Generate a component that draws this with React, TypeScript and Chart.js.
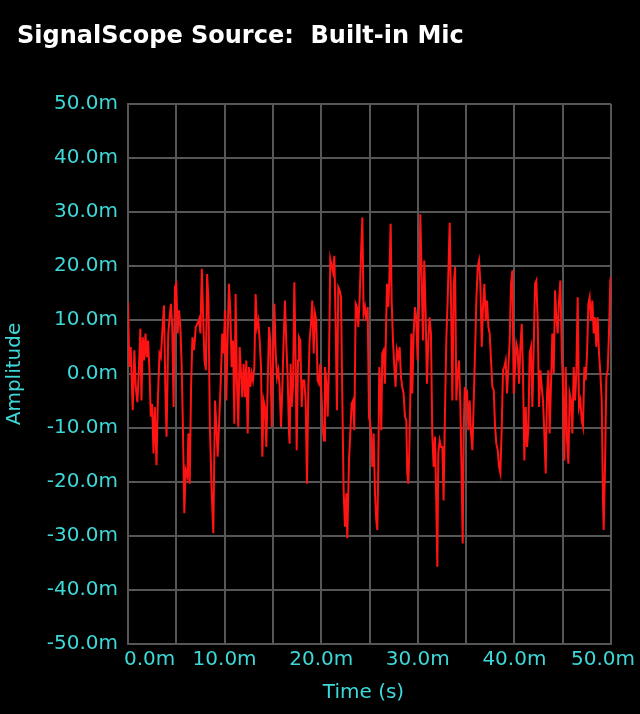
import React, { useEffect, useRef } from 'react';
import { Chart, registerables } from 'chart.js';

Chart.register(...registerables);

const TITLE = 'SignalScope Source:  Built-in Mic';
const X_TITLE = 'Time (s)';
const Y_TITLE = 'Amplitude';
const X_LABEL_TICKS = [0, 10, 20, 30, 40, 50]; // ms
const X_RANGE = [0, 50];
const Y_RANGE = [-50, 50]; // mV

// [time (ms), amplitude (mV)]
const signalSamples: [number, number][] = [
  [0.00, 13.3], [0.14, 1.3], [0.28, 5.0], [0.49, -6.7], [0.66, 4.4], [0.80, -2.4], [0.97, -5.2], [1.11, 0.1], [1.28, 8.4], [1.39, -4.9],
  [1.53, 6.8], [1.67, 2.5], [1.81, 7.5], [1.94, 3.1], [2.08, 6.2], [2.22, 0.7], [2.36, -7.9], [2.50, -5.5], [2.64, -14.7], [2.78, -6.1],
  [2.95, -16.9], [3.09, -4.9], [3.26, 3.8], [3.40, 3.1], [3.54, 7.5], [3.72, 12.7], [3.89, -4.9], [3.99, -11.6], [4.17, 7.5], [4.31, 10.5],
  [4.44, 13.0], [4.58, 8.7], [4.72, -6.1], [4.86, 16.1], [5.00, 16.7], [5.14, 7.5], [5.28, 11.8], [5.42, 8.7], [5.56, 1.3], [5.69, -10.4],
  [5.83, -25.8], [5.97, -17.8], [6.15, -19.0], [6.25, -11.0], [6.39, -20.3], [6.53, -2.4], [6.67, 6.8], [6.84, 4.4], [7.01, 8.7], [7.19, 9.3],
  [7.36, 10.2], [7.50, 7.5], [7.64, 19.5], [7.78, 10.5], [7.92, 2.5], [8.06, 0.7], [8.19, 18.5], [8.33, 13.6], [8.47, -9.2],
  [8.66, -21.5], [8.83, -29.5], [9.01, -4.9], [9.18, -11.0], [9.28, -15.3], [9.42, -9.8], [9.59, -1.8], [9.76, 7.5], [9.90, 3.8], [10.04, 11.8],
  [10.18, -4.9], [10.32, 7.5], [10.45, 16.7], [10.59, 11.8], [10.73, 1.3], [10.87, 6.2], [11.01, -9.2], [11.14, 14.8], [11.28, -1.8], [11.42, -9.8],
  [11.56, 5.0], [11.70, 0.1], [11.83, -4.3], [11.97, 1.9], [12.11, -4.3], [12.25, 2.5], [12.39, -11.0], [12.52, 1.3], [12.66, -2.4], [12.80, 0.1],
  [12.94, -1.2], [13.08, 1.3], [13.21, 14.8], [13.35, 8.7], [13.49, 9.9], [13.63, 6.2], [13.77, 1.3], [13.91, -15.3], [14.04, -4.9], [14.18, -6.1],
  [14.32, -13.5], [14.46, -1.8], [14.60, 8.7], [14.73, 6.2], [14.87, -9.8], [15.01, 2.5], [15.15, 13.0], [15.29, 3.8], [15.42, -0.6], [15.56, 0.7],
  [15.70, -2.4], [15.84, -9.8], [15.98, -2.4], [16.11, 6.2], [16.25, 13.6], [16.39, 5.6], [16.53, -0.6], [16.67, -11.0],
  [16.73, -12.9], [16.84, 1.9], [16.94, -6.1], [17.08, -2.4], [17.22, 17.0], [17.35, 2.5], [17.46, -14.1], [17.60, 2.5], [17.70, 6.8], [17.84, 6.2],
  [17.98, -6.1], [18.11, -1.2], [18.25, -1.2], [18.39, -4.9], [18.53, -20.3], [18.67, -2.4], [18.80, 6.2], [18.94, 9.3], [19.08, 13.6], [19.22, 3.8],
  [19.36, 11.2], [19.49, 9.9], [19.63, -1.2], [19.77, -1.8], [19.91, 1.9], [20.05, -4.9], [20.18, -10.4], [20.29, -12.3], [20.39, 1.3], [20.53, -1.2],
  [20.67, -7.9], [20.80, 1.3], [20.94, 21.3], [21.08, 20.1], [21.22, 18.9], [21.36, 21.9], [21.50, 8.7], [21.63, -6.7], [21.77, 16.1], [21.91, 15.5],
  [22.05, 14.2], [22.19, -4.9], [22.32, -21.5], [22.46, -28.3], [22.60, -22.1], [22.70, -30.4], [22.88, -16.0], [23.01, -11.0], [23.15, -5.5], [23.29, -4.9],
  [23.43, -10.4], [23.57, 13.0], [23.70, 12.4], [23.84, 8.7], [23.98, 14.2], [24.12, 22.2], [24.26, 29.0], [24.39, 11.2], [24.53, 12.4], [24.67, 9.9],
  [24.81, 12.4], [24.95, -7.9],
  [25.01, -8.6], [25.15, -10.4], [25.29, -17.2], [25.43, -11.0], [25.57, -22.1], [25.70, -27.0], [25.81, -28.9], [25.91, -17.2], [26.01, 1.3], [26.12, -2.4],
  [26.22, -10.4], [26.32, 3.8], [26.46, 4.4], [26.60, -1.8], [26.70, 7.5], [26.81, 16.7], [26.95, 12.4], [27.05, 17.3], [27.19, 27.8], [27.29, 13.6],
  [27.43, 6.2], [27.57, 1.3], [27.70, -2.4], [27.84, 4.4], [27.98, 3.1], [28.12, 5.0], [28.26, -0.6], [28.39, -2.4], [28.53, -3.6], [28.67, -7.9],
  [28.81, -8.6], [28.91, -18.4], [29.02, -20.3], [29.12, -14.1], [29.22, -4.9], [29.33, 7.5], [29.43, -3.6], [29.57, 7.5], [29.71, 12.4], [29.84, 10.5],
  [29.98, 2.5], [30.12, 12.4], [30.26, 29.6], [30.40, 17.9], [30.53, 6.2], [30.67, 21.0], [30.81, 11.2], [30.95, -1.8], [31.09, 6.2], [31.22, 10.5],
  [31.36, 7.5], [31.50, -11.0], [31.64, -17.2], [31.78, -11.6], [31.91, -23.4], [32.02, -35.7], [32.12, -14.7], [32.26, -12.3], [32.40, -13.5], [32.54, -13.5],
  [32.67, -23.4], [32.81, -7.3], [32.95, 6.2], [33.09, 13.6],
  [33.30, 28.0], [33.44, 13.6], [33.58, -4.9], [33.72, 16.7], [33.86, 19.8], [33.99, -4.9], [34.13, 0.1], [34.27, 2.5], [34.41, -6.1], [34.55, -20.3],
  [34.65, -31.4], [34.75, -11.0], [34.86, -2.4], [34.96, -4.3], [35.10, -3.6], [35.24, -10.4], [35.37, -4.9], [35.51, -11.0], [35.65, -14.1], [35.79, -4.9],
  [35.93, 4.4], [36.06, 13.6], [36.20, 19.8], [36.34, 21.0], [36.48, 16.7], [36.62, 5.0], [36.75, 12.4], [36.89, 16.7], [37.03, 9.9], [37.17, 13.6],
  [37.31, 8.7], [37.44, 7.5], [37.58, 2.5], [37.72, -2.4], [37.86, -3.0], [38.00, -9.8], [38.13, -12.9], [38.27, -14.1], [38.41, -17.2], [38.55, -18.4],
  [38.69, -9.8], [38.82, 0.7], [38.96, 1.3], [39.10, 2.5], [39.24, -3.6], [39.38, 1.3], [39.51, 6.2], [39.65, 16.7], [39.79, 19.2], [39.93, -3.6],
  [40.07, 1.3], [40.20, 5.6], [40.34, 4.4], [40.48, -1.8], [40.62, 5.0], [40.76, 9.3], [40.89, 0.1], [41.03, -16.0], [41.17, -6.1], [41.31, -13.5],
  [41.45, -9.8], [41.58, 3.8],
  [41.72, 5.0], [41.86, -6.1], [42.00, 5.0], [42.14, 16.7], [42.27, 17.3], [42.41, 9.9], [42.55, -6.1], [42.69, 0.7], [42.83, -2.4], [42.96, -4.9],
  [43.10, -11.0], [43.24, -18.4], [43.38, -3.6], [43.52, 0.7], [43.65, -11.0], [43.79, -1.8], [43.93, 7.5], [44.07, 0.1], [44.21, 15.5], [44.34, 10.5],
  [44.48, 7.5], [44.62, 13.6], [44.76, 17.3], [44.90, 4.4], [45.03, -2.4], [45.17, -16.0], [45.31, 1.3], [45.45, -12.3], [45.59, -16.6], [45.72, -3.6],
  [45.86, -4.9], [46.00, -11.0], [46.14, 1.3], [46.28, -4.9], [46.41, 0.1], [46.55, 14.2], [46.69, -6.1], [46.83, -4.9], [46.97, -8.6], [47.10, -9.8],
  [47.24, 1.3], [47.38, -1.2], [47.52, 3.8], [47.66, 13.0], [47.79, 14.2], [47.93, 9.9], [48.07, 13.6], [48.21, 7.5], [48.35, 10.5], [48.48, 5.0],
  [48.62, 10.5], [48.76, 3.8], [48.90, 0.1], [49.04, -4.9], [49.17, -23.4], [49.24, -28.9], [49.38, -17.2], [49.52, -0.6], [49.66, 0.7], [49.79, 7.5],
  [49.93, 17.3], [50.00, 18.0],
];

const CYAN = '#3ed8d8';
const GRID = '#565656';
const FONT = 'DejaVu Sans';

const overlayPlugin = {
  id: 'scopeOverlay',
  beforeDraw(chart: any) {
    const { ctx, width, height } = chart;
    ctx.save();
    ctx.fillStyle = '#000';
    ctx.fillRect(0, 0, width, height);
    ctx.restore();
  },
  afterDraw(chart: any) {
    const { ctx, chartArea } = chart;
    const xs = chart.scales.x;
    ctx.save();
    // Title
    ctx.fillStyle = '#ffffff';
    ctx.font = `bold 24px "${FONT}"`;
    ctx.textAlign = 'left';
    ctx.textBaseline = 'alphabetic';
    ctx.fillText(TITLE, 17, 43);
    // X tick labels (clamped inside the frame)
    ctx.fillStyle = CYAN;
    ctx.font = `20px "${FONT}"`;
    const minLeft = chartArea.left - 4;
    const maxRight = chartArea.right + 24;
    X_LABEL_TICKS.forEach((v) => {
      const label = v.toFixed(1) + 'm';
      const w = ctx.measureText(label).width;
      const px = xs.getPixelForValue(v);
      let left = px - w / 2;
      if (left < minLeft) left = minLeft;
      if (left + w > maxRight) left = maxRight - w;
      ctx.fillText(label, left, chartArea.bottom + 21);
    });
    // X title
    ctx.textAlign = 'center';
    ctx.fillText(X_TITLE, (chartArea.left + chartArea.right) / 2 - 6, chartArea.bottom + 54);
    ctx.restore();
  },
};

export default function App() {
  const canvasRef = useRef<HTMLCanvasElement | null>(null);

  useEffect(() => {
    document.body.style.margin = '0';
    document.body.style.background = '#000';
    const canvas = canvasRef.current;
    if (!canvas) return;
    const chart = new Chart(canvas, {
      type: 'line',
      data: {
        datasets: [
          {
            data: signalSamples.map(([t, a]) => ({ x: t, y: a })),
            borderColor: '#ff1414',
            borderWidth: 2,
            pointRadius: 0,
            tension: 0,
            fill: false,
          },
        ],
      },
      options: {
        animation: false,
        responsive: false,
        layout: { padding: { top: 104, right: 29, bottom: 0, left: 0 } },
        plugins: {
          legend: { display: false },
          tooltip: { enabled: false },
          title: { display: false },
        },
        scales: {
          x: {
            type: 'linear',
            min: X_RANGE[0],
            max: X_RANGE[1],
            ticks: { stepSize: 5, display: false },
            grid: { color: GRID, lineWidth: 2, drawTicks: false },
            border: { color: GRID, width: 2 },
            afterFit: (s: any) => {
              s.height = 70;
            },
          },
          y: {
            type: 'linear',
            min: Y_RANGE[0],
            max: Y_RANGE[1],
            ticks: {
              stepSize: 10,
              color: CYAN,
              padding: 10,
              font: { family: FONT, size: 20 },
              callback: (v: any) => Number(v).toFixed(1) + 'm',
            },
            grid: { color: GRID, lineWidth: 2, drawTicks: false },
            border: { color: GRID, width: 2 },
            title: {
              display: true,
              text: Y_TITLE,
              color: CYAN,
              font: { family: FONT, size: 20 },
              padding: { top: 3, bottom: 0 },
            },
            afterFit: (s: any) => {
              s.width = 128;
            },
          },
        },
      },
      plugins: [overlayPlugin],
    });
    return () => chart.destroy();
  }, []);

  return (
    <div style={{ width: 640, height: 714, background: '#000' }}>
      <canvas ref={canvasRef} width={640} height={714} style={{ display: 'block' }} />
    </div>
  );
}
